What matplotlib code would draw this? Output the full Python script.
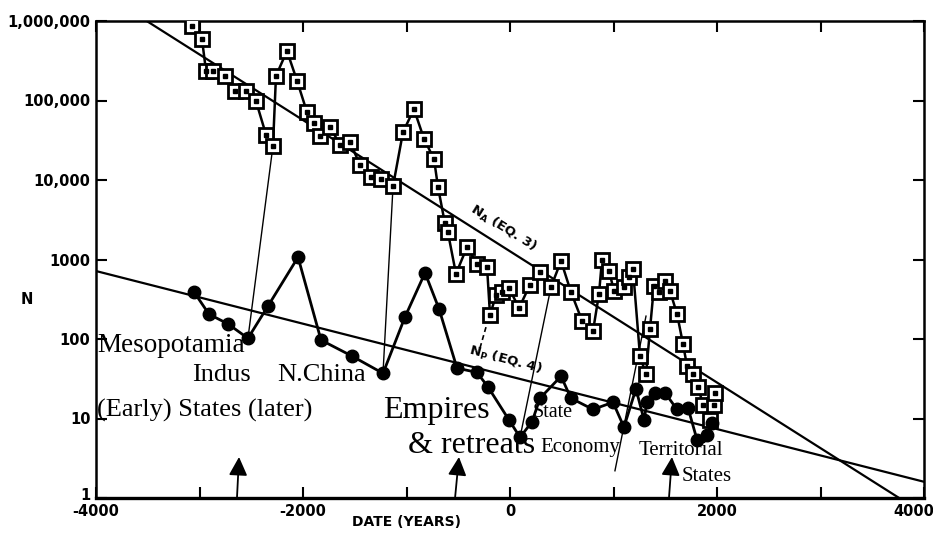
import matplotlib
matplotlib.use("Agg")
import matplotlib.pyplot as plt
import matplotlib.transforms as mtransforms
from matplotlib.ticker import FixedLocator, FixedFormatter, NullLocator

# ---------------- data ----------------
# Series A (open squares)
sq_years = [-3072, -2976, -2937, -2870, -2754, -2657, -2551, -2454, -2357, -2290,
            -2261, -2155, -2058, -1961, -1893, -1840, -1739, -1643, -1546, -1449,
            -1343, -1246, -1130, -1034, -928, -831, -734, -696, -630, -600,
            -522, -415, -319, -222, -193, -135, -77, -10, 87, 193,
            290, 396, 493, 589, 696, 802, 860, 889, 957, 1005,
            1101, 1150, 1188, 1256, 1314, 1353, 1391, 1440, 1498, 1546,
            1614, 1672, 1710, 1768, 1816, 1865, 1932, 1971, 1985]
sq_vals = [870000, 590000, 235000, 235000, 204000, 132000, 132000, 98000, 37000, 27000,
           204000, 420000, 178000, 71000, 52000, 36000, 47000, 27600, 30000, 15500,
           11000, 10300, 8400, 40000, 78000, 33000, 18300, 8200, 2900, 2200,
           660, 1440, 880, 810, 200, 357, 390, 440, 245, 480,
           690, 450, 960, 390, 170, 126, 370, 1000, 720, 400,
           450, 600, 760, 61, 36, 134, 465, 390, 535, 400,
           206, 86, 46, 36, 25, 15, 9.6, 15, 21]

# Series P (filled dots)
dm_years = [-3053, -2908, -2725, -2532, -2338, -2048, -1826, -1527, -1227, -1014,
            -821, -686, -512, -319, -213, -10, 97, 213, 290, 493,
            589, 802, 995, 1101, 1217, 1295, 1324, 1401, 1498, 1614,
            1720, 1807, 1903, 1952]
dm_vals = [390, 205, 155, 102, 260, 1070, 97, 61, 37, 190,
           680, 240, 43, 38, 25, 9.6, 5.8, 9.1, 18, 34,
           18, 13, 16, 7.8, 23.6, 9.6, 16, 21, 21, 13,
           13.6, 5.4, 6.2, 8.7]

# Fit lines (EQ. 3 and EQ. 4), end points
na_years = [-3510, 3760]
na_vals = [1e6, 1]
np_years = [-4000, 4000]
np_vals = [716, 1.6]

# links between square minima and dot minima (indices into the arrays)
links = [(9, 3), (22, 8), (41, 16)]

xticks = [-4000, -3000, -2000, -1000, 0, 1000, 2000, 3000, 4000]
xtick_labels = ["-4000", "", "-2000", "", "0", "", "2000", "", "4000"]
yticks = [1, 10, 100, 1000, 1e4, 1e5, 1e6]
ytick_labels = ["1", "10", "100", "1000", "10,000", "100,000", "1,000,000"]

# ---------------- figure ----------------
W, H = 933, 536
fig = plt.figure(figsize=(W / 100, H / 100), dpi=100)
fig.patch.set_facecolor("white")
ax = fig.add_axes([96 / W, 38 / H, 828 / W, 477 / H])

ax.set_xscale("linear")
ax.set_yscale("log")
ax.set_xlim(-4000, 4000)
ax.set_ylim(1, 1e6)

# fit lines
ax.plot(na_years, na_vals, color="black", lw=1.6, zorder=2)
ax.plot(np_years, np_vals, color="black", lw=1.6, zorder=2)

# thin links
for i, j in links:
    ax.plot([sq_years[i], dm_years[j]], [sq_vals[i], dm_vals[j]],
            color="black", lw=1.0, zorder=2)
# free thin line near Economy and dashed stub
ax.plot([1314, 1014], [194, 2.2], color="black", lw=1.0, zorder=2)
ax.plot([-232, -290], [141, 77], color="black", lw=1.2, ls=(0, (3, 2)), zorder=2)

# series A
ax.plot(sq_years, sq_vals, color="black", lw=1.8, marker="s", ms=9.5,
        mfc="white", mec="black", mew=2.0, zorder=4)
ax.plot(sq_years, sq_vals, ls="none", marker="s", ms=2.6, mfc="black",
        mec="black", zorder=5)
# series P
ax.plot(dm_years, dm_vals, color="black", lw=2.0, marker="o", ms=9,
        mfc="black", mec="black", zorder=4)

# ticks
ax.xaxis.set_major_locator(FixedLocator(xticks))
ax.xaxis.set_major_formatter(FixedFormatter(xtick_labels))
ax.yaxis.set_major_locator(FixedLocator(yticks))
ax.yaxis.set_major_formatter(FixedFormatter(ytick_labels))
ax.yaxis.set_minor_locator(NullLocator())
ax.xaxis.set_minor_locator(NullLocator())
ax.tick_params(axis="both", which="major", direction="in", length=8, width=1.5,
               top=True, right=True, labelsize=10.5, pad=4)
for lab in ax.get_xticklabels() + ax.get_yticklabels():
    lab.set_fontweight("bold")
    lab.set_family("DejaVu Sans")
for s in ax.spines.values():
    s.set_linewidth(1.8)
ax.spines["bottom"].set_linewidth(2.4)

# keep the last x label inside the picture
last = ax.get_xticklabels()[-1]
last.set_transform(last.get_transform() +
                   mtransforms.ScaledTranslation(-10 / 100, 0, fig.dpi_scale_trans))
# lift the "1" label a little so it clears "-4000"
first_y = ax.get_yticklabels()[0]
first_y.set_transform(first_y.get_transform() +
                      mtransforms.ScaledTranslation(0, 4 / 100, fig.dpi_scale_trans))

# axis labels
fig.text(406 / W, 1 - 522 / H, "DATE (YEARS)", ha="center", va="center",
         fontsize=10, fontweight="bold", family="DejaVu Sans")
fig.text(27 / W, 1 - 300 / H, "N", ha="center", va="center",
         fontsize=10.5, fontweight="bold", family="DejaVu Sans")

# equation labels
plt.rcParams["mathtext.default"] = "bf"
ax.text((503 - 96) / 828, (498 - 228) / 477, r"$N_A$ (EQ. 3)", transform=ax.transAxes,
        rotation=-32, rotation_mode="anchor", ha="center", va="center",
        fontsize=9.5, fontweight="bold", family="DejaVu Sans", zorder=6)
ax.text((505 - 96) / 828, (498 - 360) / 477, r"$N_P$ (EQ. 4)", transform=ax.transAxes,
        rotation=-15, rotation_mode="anchor", ha="center", va="center",
        fontsize=9.5, fontweight="bold", family="DejaVu Sans", zorder=6)

# annotations (serif)
serif = "Liberation Serif"
notes = [
    ("Mesopotamia", 97, 352, 19.5),
    ("Indus", 192, 381, 19),
    ("N.China", 277, 381, 19),
    ("(Early) States (later)", 97, 417, 19),
    ("Empires", 383, 418, 23),
    ("& retreats", 408, 453, 23),
    ("State", 533, 417, 14.5),
    ("Economy", 540, 452, 15),
    ("Territorial", 639, 455, 15),
    ("States", 682, 481, 15),
]
for txt, px, py, fs in notes:
    ax.text((px - 96) / 828, (498 - py) / 477, txt, transform=ax.transAxes,
            ha="left", va="baseline", fontsize=fs, family=serif, zorder=7)

# upward arrows
arrows = [((-2638, 1), (-2618, 3.28)), ((-531, 1), (-493, 3.28)), ((1536, 1), (1565, 3.28))]
for base, tip in arrows:
    ax.annotate("", xy=tip, xytext=base,
                arrowprops=dict(arrowstyle="-|>,head_length=0.8,head_width=0.4",
                                mutation_scale=14, lw=1.3, color="black",
                                shrinkA=0, shrinkB=0), zorder=7)

fig.savefig("out.png", dpi=100, facecolor="white")
